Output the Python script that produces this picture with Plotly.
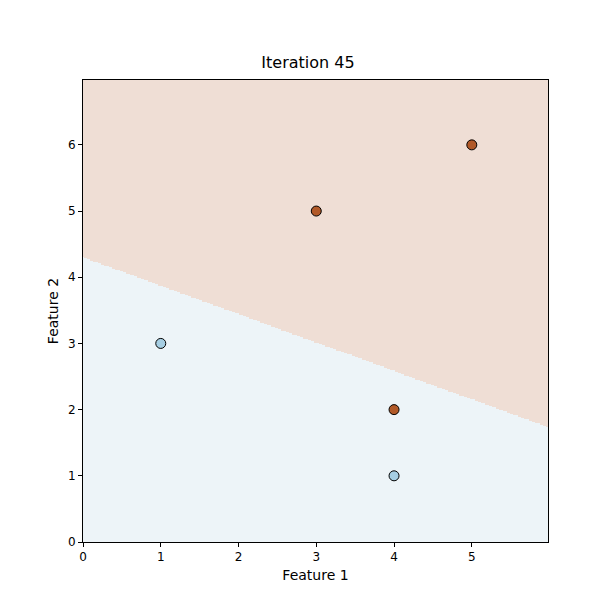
import numpy as np
import plotly.graph_objects as go

# Data points
x_pts = [1, 3, 5, 4, 4]
y_pts = [3, 5, 6, 2, 1]
labels = [0, 1, 1, 1, 0]
# Decision boundary weights (bias, w1, w2): w0 + w1*x + w2*y = 0
weights = [-4.3, 0.43, 1.0]

xs = np.arange(min(x_pts) - 1, max(x_pts) + 1, 0.02)
ys = np.arange(min(y_pts) - 1, max(y_pts) + 1, 0.02)
XX, YY = np.meshgrid(xs, ys)
Z = (weights[0] + weights[1] * XX + weights[2] * YY > 0).astype(int)

blue = "#a6cee3"
brown = "#b15928"
fig = go.Figure()
fig.add_trace(go.Heatmap(x=xs, y=ys, z=Z, showscale=False, hoverinfo="skip",
                         colorscale=[[0, "rgb(237,244,248)"], [1, "rgb(239,222,213)"]],
                         zmin=0, zmax=1))
fig.add_trace(go.Scatter(x=x_pts, y=y_pts, mode="markers", showlegend=False,
                         marker=dict(size=10, color=[brown if l else blue for l in labels],
                                     line=dict(color="black", width=1))))
axis = dict(showgrid=False, zeroline=False, showline=True, linecolor="black", mirror=True,
            ticks="outside", ticklen=4, tickcolor="black", dtick=1, automargin=False)
fig.update_layout(
    width=600, height=600, template="none",
    font=dict(family="DejaVu Sans", size=12, color="black"),
    margin=dict(l=75, r=60, t=72, b=66, autoexpand=False),
    title=dict(text="Iteration 45", x=0.5, xanchor="center", y=0.9, yanchor="bottom", font=dict(size=16)),
    plot_bgcolor="white", paper_bgcolor="white",
    xaxis=dict(axis, range=[xs[0], xs[-1]], title=dict(text="Feature 1", standoff=6)),
    yaxis=dict(axis, range=[ys[0], ys[-1]], title=dict(text="Feature 2", standoff=6)),
)
fig.write_html("out.html")
